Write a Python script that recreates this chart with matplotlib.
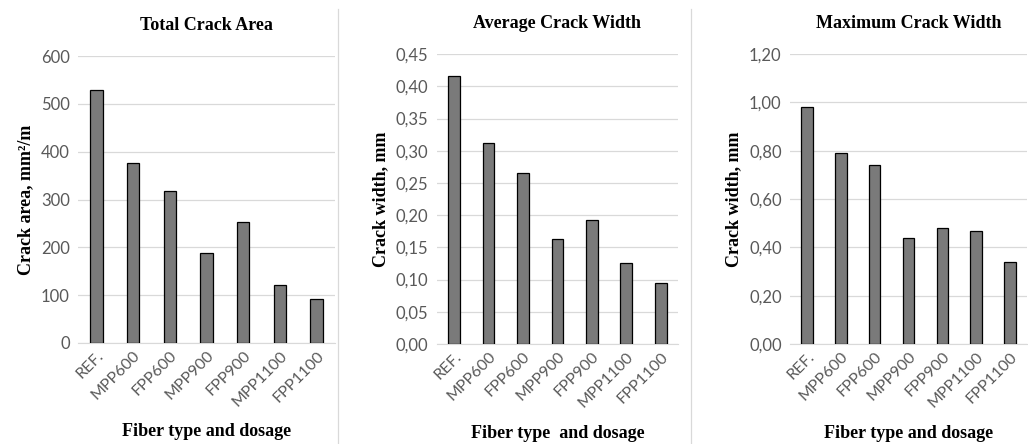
import matplotlib.pyplot as plt
from matplotlib.lines import Line2D
from matplotlib.ticker import FuncFormatter

categories = ['REF.', 'MPP600', 'FPP600', 'MPP900', 'FPP900', 'MPP1100', 'FPP1100']

total_area = [530, 377, 318, 189, 254, 122, 92]
avg_width = [0.416, 0.312, 0.265, 0.163, 0.192, 0.125, 0.094]
max_width = [0.979, 0.79, 0.74, 0.439, 0.479, 0.468, 0.338]

titles = ['Total Crack Area', 'Average Crack Width', 'Maximum Crack Width']
ylabels = ['Crack area, mm\u00b2/m', 'Crack width, mm', 'Crack width, mm']
xlabels = ['Fiber type and dosage', 'Fiber type  and dosage', 'Fiber type and dosage']

serif = 'Liberation Serif'
tick_font = 'Lato'
tick_col = '#595959'
bar_col = '#7a7a7a'

fig = plt.figure(figsize=(10.28, 4.44), dpi=100)

# axes rectangles in figure fractions
rects = [
    [0.0759, 0.2275, 0.250, 0.646],
    [0.4250, 0.2252, 0.2344, 0.6530],
    [0.7685, 0.2252, 0.2305, 0.6530],
]
ylims = [(0, 600), (0, 0.45), (0, 1.2)]
ysteps = [100, 0.05, 0.2]
fmts = [lambda v, p: '%d' % round(v),
        lambda v, p: ('%.2f' % v).replace('.', ','),
        lambda v, p: ('%.2f' % v).replace('.', ',')]

for i, vals in enumerate([total_area, avg_width, max_width]):
    ax = fig.add_axes(rects[i])
    x = range(len(categories))
    ax.bar(x, vals, width=0.34, color=bar_col, edgecolor='black', linewidth=0.9, zorder=3)
    ax.set_xlim(-0.5, len(categories) - 0.5)
    lo, hi = ylims[i]
    ax.set_ylim(lo, hi)
    n = int(round((hi - lo) / ysteps[i]))
    ax.set_yticks([lo + k * ysteps[i] for k in range(n + 1)])
    ax.yaxis.set_major_formatter(FuncFormatter(fmts[i]))
    ax.grid(axis='y', color='#d9d9d9', linewidth=0.9, zorder=0)
    for s in ['top', 'right', 'left']:
        ax.spines[s].set_visible(False)
    ax.spines['bottom'].set_color('#d9d9d9')
    ax.tick_params(length=0, colors=tick_col, pad=6)
    ax.tick_params(axis='y', labelsize=12)
    ax.tick_params(axis='x', labelsize=11.5, pad=4)
    ax.set_xticks(list(x))
    ax.set_xticklabels(categories, rotation=45, ha='right', rotation_mode='anchor')
    for lab in ax.get_xticklabels() + ax.get_yticklabels():
        lab.set_fontfamily(tick_font)
    ax.set_title(titles[i], fontfamily=serif, fontweight='bold', fontsize=13, pad=19)
    ax.set_ylabel(ylabels[i], fontfamily=serif, fontweight='bold', fontsize=13, labelpad=5)
    ax.set_xlabel(xlabels[i], fontfamily=serif, fontweight='bold', fontsize=13, va='center')
    ax.xaxis.set_label_coords(0.5, -0.31)

# thin separators between the three charts
for xf in [338 / 1028, 691 / 1028]:
    fig.add_artist(Line2D([xf, xf], [0, 0.98], transform=fig.transFigure,
                          color='#d9d9d9', linewidth=0.9))

fig.savefig('out.png', dpi=100)
